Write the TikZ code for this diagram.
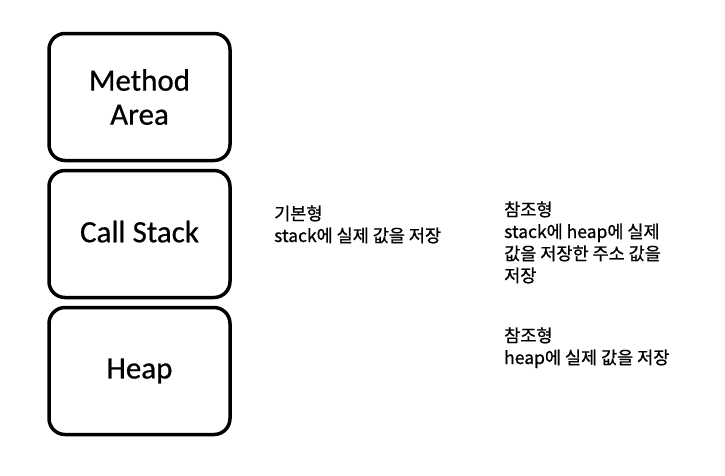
\documentclass[tikz,border=0pt]{standalone}
\usepackage{fontspec}
\setmainfont[FakeBold=0.6]{Carlito}
\newfontfamily\kofont[FakeBold=0.8]{Noto Sans CJK KR}
\usetikzlibrary{positioning}

\begin{document}
\begin{tikzpicture}[x=1pt,y=-1pt,node distance=137pt,on grid]
  \tikzset{area/.style={draw,line width=3.5pt,rounded corners=16pt,minimum width=181pt,minimum height=127pt,align=center,font=\fontsize{31}{34}\selectfont}}
  \tikzset{note/.style={anchor=base west,align=left,inner sep=0pt,font=\kofont\fontsize{17.5}{22}\selectfont}}
  \useasboundingbox (0,0) rectangle (725,475);
  \node[area] (method) at (139.5,97) {Method\\Area};
  \node[area] (stack) [below = of method] {\raisebox{5pt}{Call Stack}};
  \node[area] (heap) [below = of stack] {Heap};
  % base anchor sits on the last line
  \node[note] (prim) at (274,242) {기본형\\stack에 실제 값을 저장};
  \node[note] (ref) at (504,282) {참조형\\stack에 heap에 실제\\값을 저장한 주소 값을\\저장};
  \node[note] (refheap) at (504,364) {참조형\\heap에 실제 값을 저장};
\end{tikzpicture}
\end{document}
